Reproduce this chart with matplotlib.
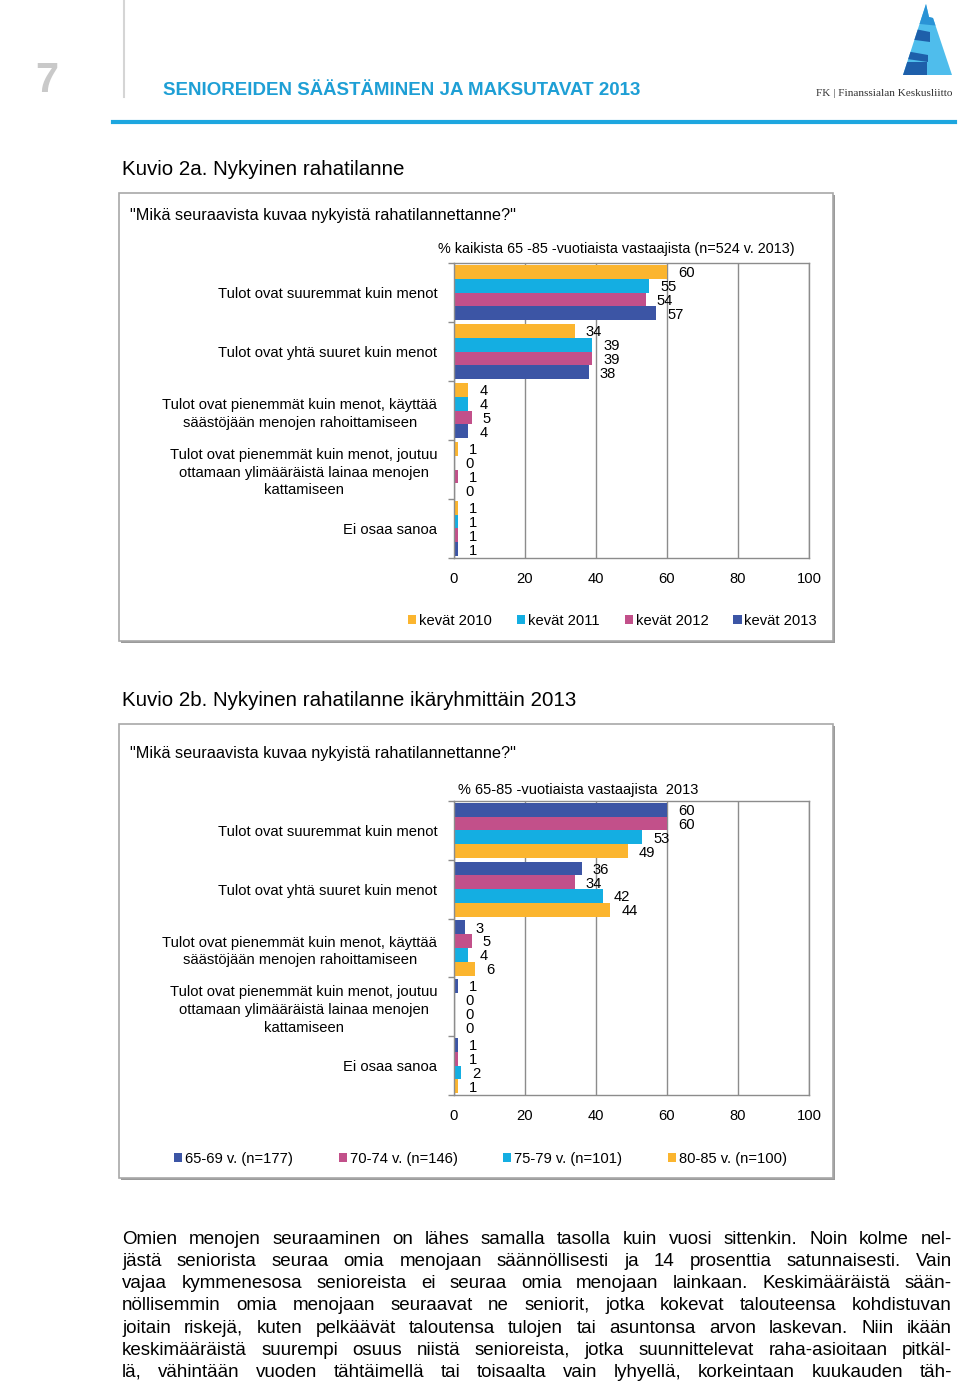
import matplotlib
matplotlib.use("Agg")
import matplotlib.pyplot as plt
from matplotlib import font_manager
from matplotlib.patches import Rectangle, Polygon
from matplotlib.lines import Line2D
import numpy as np

# ---------------- data ----------------
categories = [
    "Tulot ovat suuremmat kuin menot",
    "Tulot ovat yhtä suuret kuin menot",
    "Tulot ovat pienemmät kuin menot, käyttää\nsäästöjään menojen rahoittamiseen",
    "Tulot ovat pienemmät kuin menot, joutuu\nottamaan ylimääräistä lainaa menojen\nkattamiseen",
    "Ei osaa sanoa",
]
years = ["kevät 2010", "kevät 2011", "kevät 2012", "kevät 2013"]
v2010 = [60, 34, 4, 1, 1]
v2011 = [55, 39, 4, 0, 1]
v2012 = [54, 39, 5, 1, 1]
v2013 = [57, 38, 4, 0, 1]

age_groups = ["65-69 v. (n=177)", "70-74 v. (n=146)", "75-79 v. (n=101)", "80-85 v. (n=100)"]
a6569 = [60, 36, 3, 1, 1]
a7074 = [60, 34, 5, 0, 1]
a7579 = [53, 42, 4, 0, 2]
a8085 = [49, 44, 6, 0, 1]

x_ticks = [0, 20, 40, 60, 80, 100]

header_number = "7"
header_title = "SENIOREIDEN SÄÄSTÄMINEN JA MAKSUTAVAT 2013"
logo_text = "FK | Finanssialan Keskusliitto"
fig1_title = "Kuvio 2a. Nykyinen rahatilanne"
fig2_title = "Kuvio 2b. Nykyinen rahatilanne ikäryhmittäin 2013"
question = "\"Mikä seuraavista kuvaa nykyistä rahatilannettanne?\""
sub1 = "% kaikista 65 -85 -vuotiaista vastaajista (n=524 v. 2013)"
sub2 = "% 65-85 -vuotiaista vastaajista  2013"
body_lines = [
    "Omien menojen seuraaminen on lähes samalla tasolla kuin vuosi sittenkin. Noin kolme nel-",
    "jästä seniorista seuraa omia menojaan säännöllisesti ja 14 prosenttia satunnaisesti. Vain",
    "vajaa kymmenesosa senioreista ei seuraa omia menojaan lainkaan. Keskimääräistä sään-",
    "nöllisemmin omia menojaan seuraavat ne seniorit, jotka kokevat talouteensa kohdistuvan",
    "joitain riskejä, kuten pelkäävät taloutensa tulojen tai asuntonsa arvon laskevan. Niin ikään",
    "keskimääräistä suurempi osuus niistä senioreista, jotka suunnittelevat raha-asioitaan pitkäl-",
    "lä, vähintään vuoden tähtäimellä tai toisaalta vain lyhyellä, korkeintaan kuukauden täh-",
]

# ---------------- style ----------------
YEL, CYA, PIN, BLU = "#FBB52F", "#14AEE2", "#C2508A", "#3C55A5"
GR = "#8C8C8C"
W, H, DPI = 960, 1385, 100

avail = {f.name for f in font_manager.fontManager.ttflist}
SANS = "Liberation Sans" if "Liberation Sans" in avail else "DejaVu Sans"
NARROW = "Liberation Sans Narrow" if "Liberation Sans Narrow" in avail else None
SERIF = "Liberation Serif" if "Liberation Serif" in avail else "DejaVu Serif"
plt.rcParams["font.family"] = [SANS, "DejaVu Sans"]

fig = plt.figure(figsize=(W / DPI, H / DPI), dpi=DPI)
fig.patch.set_facecolor("white")
renderer = fig.canvas.get_renderer()


def fx(x):
    return x / W


def fy(y):
    return 1 - y / H


def fit_text(x, y, s, target_w, size, **kw):
    t = fig.text(fx(x), fy(y), s, fontsize=size, **kw)
    w = t.get_window_extent(renderer).width
    t.set_fontsize(size * target_w / w)
    return t


LBL = 10.6


def bar_chart(rect, series, colors, labels):
    l, t, r, b = rect
    ax = fig.add_axes([fx(l), fy(b), (r - l) / W, (b - t) / H])
    n = len(series)
    h = 0.235
    idx = np.arange(len(categories))
    for i, (vals, c, lab) in enumerate(zip(series, colors, labels)):
        yy = idx + (i - (n - 1) / 2) * h
        ax.barh(yy, vals, height=h, color=c, label=lab, edgecolor="none", zorder=2)
        for y0, v in zip(yy, vals):
            ax.annotate(f"{v}", xy=(v, y0), xytext=(7.9, -1), textcoords="offset points",
                        ha="left", va="center", fontsize=LBL, zorder=3)
    ax.set_xlim(0, 100)
    ax.set_ylim(len(categories) - 0.5, -0.5)
    ax.set_xticks(x_ticks)
    ax.set_xticklabels([str(v) for v in x_ticks], fontsize=LBL)
    ax.set_yticks(idx)
    ax.set_yticklabels(categories, fontsize=LBL)
    for tl in ax.get_yticklabels():
        tl.set_multialignment("center")
        tl.set_linespacing(1.33)
    ax.set_yticks(np.arange(len(categories) + 1) - 0.5, minor=True)
    ax.tick_params(axis="y", which="major", length=0, pad=12)
    ax.tick_params(axis="y", which="minor", length=4, color=GR, width=1)
    ax.tick_params(axis="x", length=0, pad=10)
    ax.xaxis.grid(True, color=GR, lw=1, zorder=1)
    ax.set_axisbelow(True)
    for sp in ax.spines.values():
        sp.set_color(GR)
        sp.set_linewidth(1)
    return ax


def box(x0, y0, x1, y1):
    sh = Rectangle((fx(x0 + 2), fy(y1 + 2)), (x1 - x0) / W, (y1 - y0) / H,
                   transform=fig.transFigure, facecolor="#9A9A9A", edgecolor="none", zorder=-3)
    mn = Rectangle((fx(x0), fy(y1)), (x1 - x0) / W, (y1 - y0) / H,
                   transform=fig.transFigure, facecolor="white", edgecolor="#A8A8A8", lw=1.2, zorder=-2)
    fig.patches.extend([sh, mn])


# ---------------- header ----------------
fig.text(fx(47), fy(92), header_number, fontsize=30, fontweight="bold", color="#C9C9C9",
         ha="center", va="baseline")
fig.add_artist(Line2D([fx(124), fx(124)], [fy(0), fy(97)], transform=fig.transFigure,
                      color="#D5D5D5", lw=1.5))
fit_text(163, 95, header_title, 481, 14, fontweight="bold", color="#1E9FD5",
         family=[NARROW or SANS, "DejaVu Sans"], va="baseline")
fig.add_artist(Line2D([fx(113), fx(955)], [fy(122), fy(122)], transform=fig.transFigure,
                      color="#1DA6DF", lw=3))

# logo
tri_px = [(903, 75), (952, 75), (933, 18), (929, 17), (926, 4)]
tri = Polygon([(fx(x), fy(y)) for x, y in tri_px], closed=True, transform=fig.transFigure,
              facecolor="#4FBDEC", edgecolor="none")
fig.patches.append(tri)
shades = [
    ("#2A93D6", [(900, 0), (940, 0), (940, 26), (900, 22)]),
    ("#1E5FAA", [(900, 26), (930, 32), (930, 42), (900, 38)]),
    ("#1E5FAA", [(900, 50), (928, 55), (928, 62), (900, 58)]),
    ("#1E5FAA", [(900, 62), (927, 62), (927, 78), (900, 78)]),
]
for col, bp in shades:
    p = Polygon([(fx(x), fy(y)) for x, y in bp], closed=True, transform=fig.transFigure,
                facecolor=col, edgecolor="none")
    p.set_clip_path(tri)
    fig.patches.append(p)
fit_text(816, 96, logo_text, 136, 8, family=[SERIF, "DejaVu Serif"], color="#333333", va="baseline")

# ---------------- figure 2a ----------------
fit_text(122, 175, fig1_title, 282, 13.3, va="baseline")
box(119, 193, 833, 641)
fit_text(130, 220, question, 385, 11, va="baseline")
fit_text(438, 253, sub1, 357, 10.6, va="baseline")
ax1 = bar_chart((454, 263, 809, 558), [v2010, v2011, v2012, v2013], [YEL, CYA, PIN, BLU], years)
hd, lb = ax1.get_legend_handles_labels()
fig.legend(hd, lb, loc="center left", bbox_to_anchor=(fx(408), fy(621)), ncol=4, frameon=False,
           fontsize=LBL, handlelength=0.55, handleheight=0.55, handletextpad=0.2,
           columnspacing=1.7, borderpad=0, borderaxespad=0)

# ---------------- figure 2b ----------------
fit_text(122, 706, fig2_title, 455, 13.3, va="baseline")
box(119, 724, 833, 1178)
fit_text(130, 758, question, 385, 11, va="baseline")
fit_text(458, 794, sub2, 240, 10.6, va="baseline")
ax2 = bar_chart((454, 801, 809, 1095), [a6569, a7074, a7579, a8085], [BLU, PIN, CYA, YEL], age_groups)
hd, lb = ax2.get_legend_handles_labels()
fig.legend(hd, lb, loc="center left", bbox_to_anchor=(fx(174), fy(1159)), ncol=4, frameon=False,
           fontsize=LBL, handlelength=0.55, handleheight=0.55, handletextpad=0.2,
           columnspacing=3.1, borderpad=0, borderaxespad=0)

# ---------------- body text (justified) ----------------
BODY_FONT = [NARROW or SANS, "DejaVu Sans"]
x_left, x_right = 122, 952
line_y = [1237, 1259, 1281, 1303, 1326, 1348, 1370]
fs = 16.0 if NARROW else 13.5


def measure(s, size):
    t = fig.text(0, 0, s, fontsize=size, family=BODY_FONT)
    w = t.get_window_extent(renderer).width
    t.remove()
    return w


space_w = measure("a a", fs) - measure("aa", fs)
nat = []
for line in body_lines:
    words = line.split(" ")
    nat.append(sum(measure(w_, fs) for w_ in words) + space_w * (len(words) - 1))
mx = max(nat)
if mx > (x_right - x_left) * 0.985:
    fs *= (x_right - x_left) * 0.985 / mx
em = fs * DPI / 72
for line, yc in zip(body_lines, line_y):
    words = line.split(" ")
    widths = [measure(w_, fs) for w_ in words]
    gap = ((x_right - x_left) - sum(widths)) / (len(words) - 1)
    x = x_left
    for w_, wd in zip(words, widths):
        fig.text(fx(x), fy(yc + 0.36 * em), w_, fontsize=fs, family=BODY_FONT, va="baseline")
        x += wd + gap

fig.savefig("out.png", dpi=DPI)
